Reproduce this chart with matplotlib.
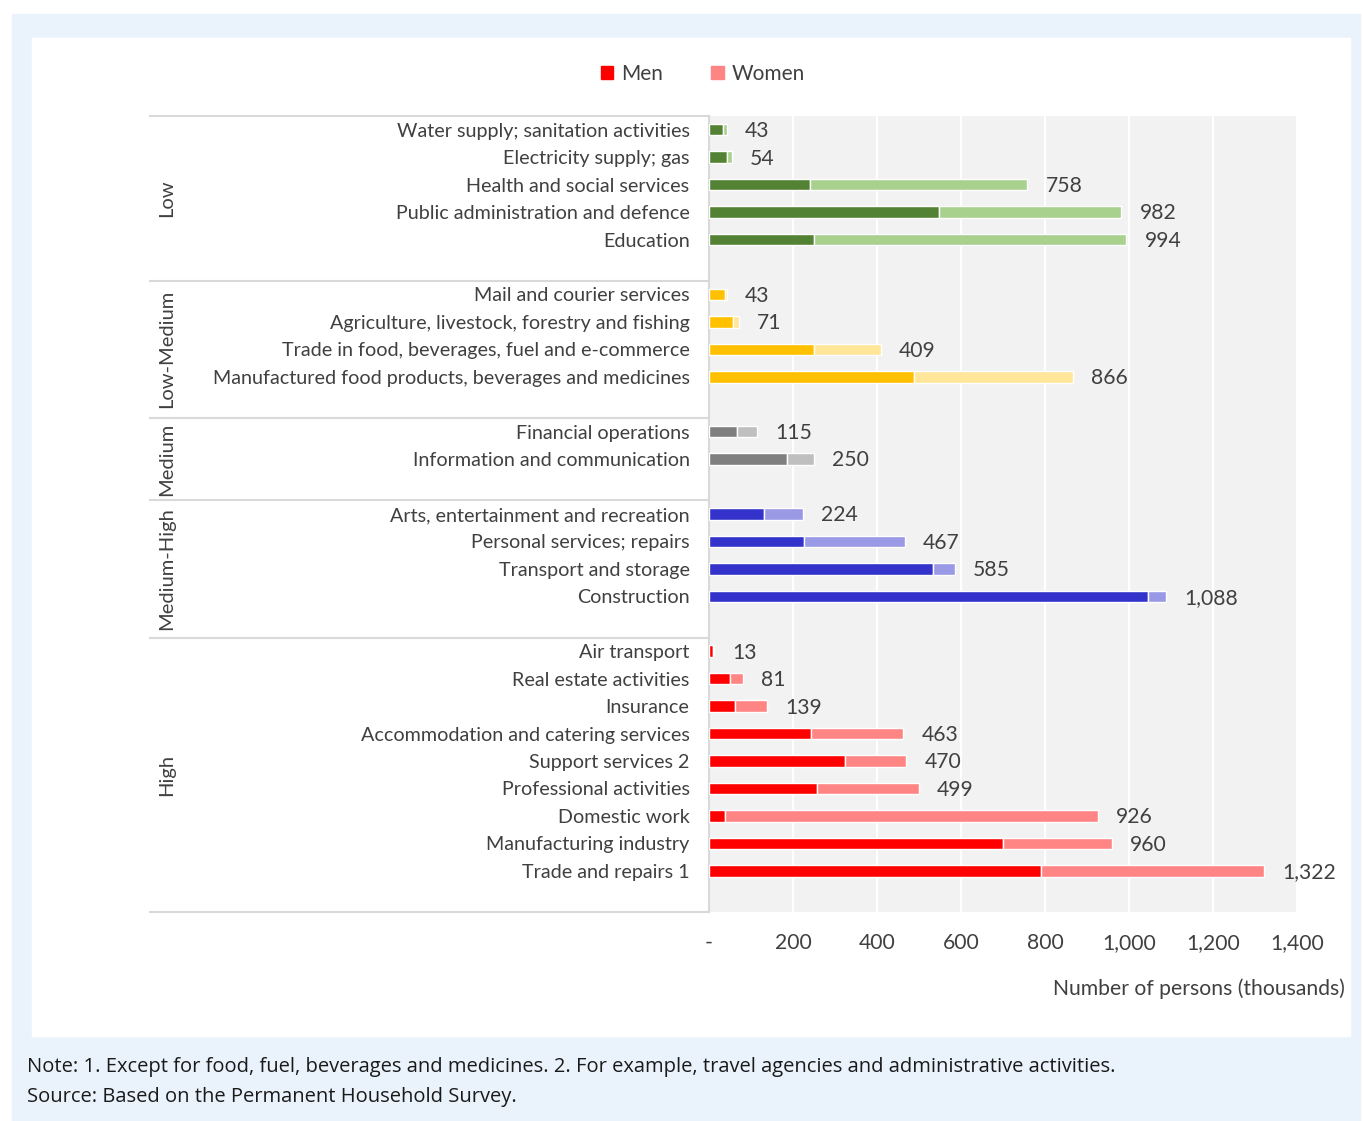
import matplotlib.pyplot as plt
from matplotlib.patches import Rectangle, Patch
from matplotlib.ticker import FixedLocator

plt.rcParams['font.family'] = ['Lato', 'DejaVu Sans']

# sectors grouped by risk level, top to bottom
groups = ['Low', 'Low-Medium', 'Medium', 'Medium-High', 'High']
sectors = [
    ['Water supply; sanitation activities', 'Electricity supply; gas',
     'Health and social services', 'Public administration and defence',
     'Education'],
    ['Mail and courier services', 'Agriculture, livestock, forestry and fishing',
     'Trade in food, beverages, fuel and e-commerce',
     'Manufactured food products, beverages and medicines'],
    ['Financial operations', 'Information and communication'],
    ['Arts, entertainment and recreation', 'Personal services; repairs',
     'Transport and storage', 'Construction'],
    ['Air transport', 'Real estate activities', 'Insurance',
     'Accommodation and catering services', 'Support services 2',
     'Professional activities', 'Domestic work', 'Manufacturing industry',
     'Trade and repairs 1'],
]
men = [
    [34, 43, 241, 547, 249],
    [39, 57, 250, 487],
    [66, 185],
    [131, 226, 534, 1045],
    [10, 51, 62, 244, 323, 257, 39, 700, 791],
]
totals = [
    [43, 54, 758, 982, 994],
    [43, 71, 409, 866],
    [115, 250],
    [224, 467, 585, 1088],
    [13, 81, 139, 463, 470, 499, 926, 960, 1322],
]
men_colors = ['#548235', '#FFC000', '#7F7F7F', '#3333CC', '#FF0000']
women_colors = ['#A9D18E', '#FFE699', '#BFBFBF', '#9999E6', '#FF8585']

W, H = 1363, 1121
fig = plt.figure(figsize=(W / 100, H / 100), dpi=100)
fig.patches.append(Rectangle((12 / W, 0), 1348 / W, 1 - 14 / H,
                             transform=fig.transFigure, color='#EAF3FC', zorder=-3))
fig.patches.append(Rectangle((32 / W, 1 - 1036 / H), 1318 / W, 998 / H,
                             transform=fig.transFigure, color='white', zorder=-2))

ax = fig.add_axes([709 / W, 1 - 912 / H, 588 / W, 796 / H])
ax.set_facecolor('#F2F2F2')

text_color = '#404040'
fs = 14.2
fs_num = 15.2

pos = 0
ytick_pos, ytick_lab = [], []
bounds = [-0.5]
centers = []
for g in range(len(groups)):
    start = pos
    for name, m, t in zip(sectors[g], men[g], totals[g]):
        w = t - m
        ax.barh(pos, m, height=0.42, color=men_colors[g], edgecolor='white', linewidth=1, zorder=3)
        ax.barh(pos, w, left=m, height=0.42, color=women_colors[g], edgecolor='white', linewidth=1, zorder=3)
        ax.annotate(f'{t:,}', (t, pos), xytext=(13, -1), textcoords='offset points',
                    ha='left', va='center', fontsize=fs_num, color=text_color)
        ytick_pos.append(pos)
        ytick_lab.append(name)
        pos += 1
    # blank slot closes each group
    pos += 1
    bounds.append(pos - 0.5)
    centers.append((start - 0.5 + pos - 0.5) / 2)

ax.set_ylim(pos - 0.5, -0.5)
ax.set_xlim(0, 1400)
ax.set_yticks(ytick_pos)
ax.set_yticklabels(ytick_lab, fontsize=fs, color=text_color)
ax.tick_params(axis='y', length=0, pad=14)

xt = list(range(0, 1401, 200))
ax.xaxis.set_major_locator(FixedLocator(xt))
ax.set_xticklabels(['-' if v == 0 else f'{v:,}' for v in xt], fontsize=fs_num, color=text_color)
ax.tick_params(axis='x', length=0, pad=15)
ax.grid(axis='x', color='white', linewidth=1.5, zorder=0)
ax.set_axisbelow(True)

for s in ['top', 'right', 'bottom']:
    ax.spines[s].set_visible(False)
ax.spines['left'].set_color('#D9D9D9')
ax.spines['left'].set_linewidth(1.5)

# group separators and group names on the left
trans = ax.get_yaxis_transform()
x_left = (150 - 709) / 588
for b in bounds:
    ax.plot([x_left, 0], [b, b], transform=trans, color='#D9D9D9', lw=1.5, clip_on=False)
for name, c in zip(groups, centers):
    ax.text((167 - 709) / 588, c, name, transform=trans, rotation=90,
            ha='center', va='center', fontsize=14.5, color=text_color)

fig.text(1345 / W, 1 - 989 / H, 'Number of persons (thousands)', ha='right', va='center',
         fontsize=fs_num, color=text_color)

handles = [Patch(color=men_colors[-1], label='Men'), Patch(color=women_colors[-1], label='Women')]
fig.legend(handles=handles, loc='center', bbox_to_anchor=(703 / W, 1 - 74 / H), ncol=2,
           frameon=False, fontsize=15, handlelength=0.6, handleheight=0.6,
           handletextpad=0.4, columnspacing=2.3, labelcolor=text_color)

note_font = ['Open Sans', 'DejaVu Sans']
fig.text(27 / W, 1 - 1067 / H,
         'Note: 1. Except for food, fuel, beverages and medicines. 2. For example, travel agencies and administrative activities.',
         ha='left', va='center', fontsize=14.5, color='#1A1A1A', family=note_font)
fig.text(27 / W, 1 - 1097 / H, 'Source: Based on the Permanent Household Survey.',
         ha='left', va='center', fontsize=14.5, color='#1A1A1A', family=note_font)

fig.savefig('out.png', dpi=100, facecolor='white')
